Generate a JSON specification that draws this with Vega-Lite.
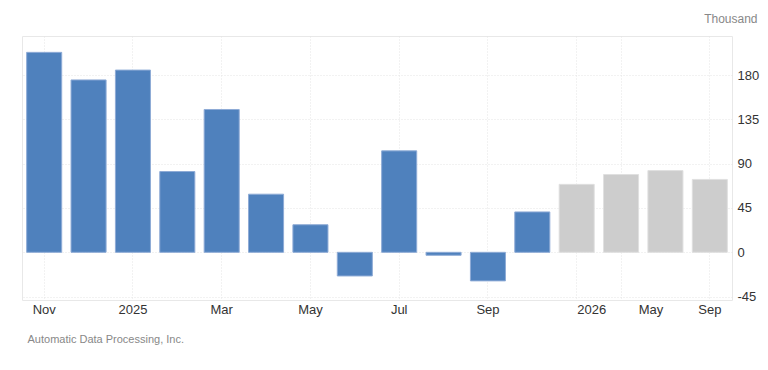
{
  "$schema": "https://vega.github.io/schema/vega-lite/v6.json",
  "width": 710,
  "height": 264,
  "autosize": {"type": "none"},
  "padding": {"left": 22, "top": 36, "right": 36, "bottom": 70},
  "background": "white",
  "config": {
    "view": {"stroke": "#e8e8e8", "strokeWidth": 1},
    "font": "Liberation Sans"
  },
  "data": {
    "values": [
      {"month": "2024-11", "value": 203, "type": "actual"},
      {"month": "2024-12", "value": 175, "type": "actual"},
      {"month": "2025-01", "value": 185, "type": "actual"},
      {"month": "2025-02", "value": 82, "type": "actual"},
      {"month": "2025-03", "value": 145, "type": "actual"},
      {"month": "2025-04", "value": 59, "type": "actual"},
      {"month": "2025-05", "value": 28, "type": "actual"},
      {"month": "2025-06", "value": -24, "type": "actual"},
      {"month": "2025-07", "value": 103, "type": "actual"},
      {"month": "2025-08", "value": -3, "type": "actual"},
      {"month": "2025-09", "value": -29, "type": "actual"},
      {"month": "2025-10", "value": 41, "type": "actual"},
      {"month": "2025-12", "value": 69, "type": "forecast"},
      {"month": "2026-03", "value": 79, "type": "forecast"},
      {"month": "2026-06", "value": 83, "type": "forecast"},
      {"month": "2026-09", "value": 74, "type": "forecast"}
    ]
  },
  "mark": {"type": "bar", "strokeWidth": 1},
  "encoding": {
    "x": {
      "field": "month",
      "type": "ordinal",
      "sort": null,
      "scale": {"paddingInner": 0.21, "paddingOuter": 0.105},
      "axis": {
        "values": ["2024-11", "2025-01", "2025-03", "2025-05", "2025-07", "2025-09", "2025-12", "2026-03", "2026-09"],
        "labelExpr": "datum.value == '2024-11' ? 'Nov' : datum.value == '2025-01' ? '2025' : datum.value == '2025-03' ? 'Mar' : datum.value == '2025-05' ? 'May' : datum.value == '2025-07' ? 'Jul' : datum.value == '2025-09' ? 'Sep' : datum.value == '2025-12' ? '2026' : datum.value == '2026-03' ? 'May' : 'Sep'",
        "labelOffset": {"condition": [{"test": "datum.value == '2025-12'", "value": 15}, {"test": "datum.value == '2026-03'", "value": 30}], "value": 0},
        "labelAngle": 0,
        "labelFontSize": 13,
        "labelColor": "#333333",
        "labelPadding": 3,
        "ticks": false,
        "domain": false,
        "grid": true,
        "gridColor": "#e4e4e4",
        "gridDash": [1, 2],
        "title": "Automatic Data Processing, Inc.",
        "titleFontSize": 11,
        "titleFontWeight": "normal",
        "titleColor": "#888888",
        "titleAnchor": "start",
        "titleAlign": "left",
        "titleBaseline": "alphabetic",
        "titleX": 5,
        "titleY": 42
      }
    },
    "y": {
      "field": "value",
      "type": "quantitative",
      "scale": {"domain": [-48.4, 219.6], "nice": false, "zero": false},
      "axis": {
        "orient": "right",
        "values": [-45, 0, 45, 90, 135, 180],
        "labelExpr": "'' + datum.value",
        "labelFontSize": 13,
        "labelColor": "#333333",
        "labelPadding": 5,
        "ticks": false,
        "domain": false,
        "grid": true,
        "gridColor": "#e4e4e4",
        "gridDash": [1, 2],
        "title": "Thousand",
        "titleAngle": 0,
        "titleFontSize": 12,
        "titleFontWeight": "normal",
        "titleColor": "#888888",
        "titleAlign": "right",
        "titleBaseline": "alphabetic",
        "titleX": 25,
        "titleY": -14
      }
    },
    "color": {
      "field": "type",
      "type": "nominal",
      "scale": {"domain": ["actual", "forecast"], "range": ["#4f81bd", "#cdcdcd"]},
      "legend": null
    },
    "stroke": {
      "field": "type",
      "type": "nominal",
      "scale": {"domain": ["actual", "forecast"], "range": ["#8eabd6", "#e0e0e0"]},
      "legend": null
    }
  }
}
